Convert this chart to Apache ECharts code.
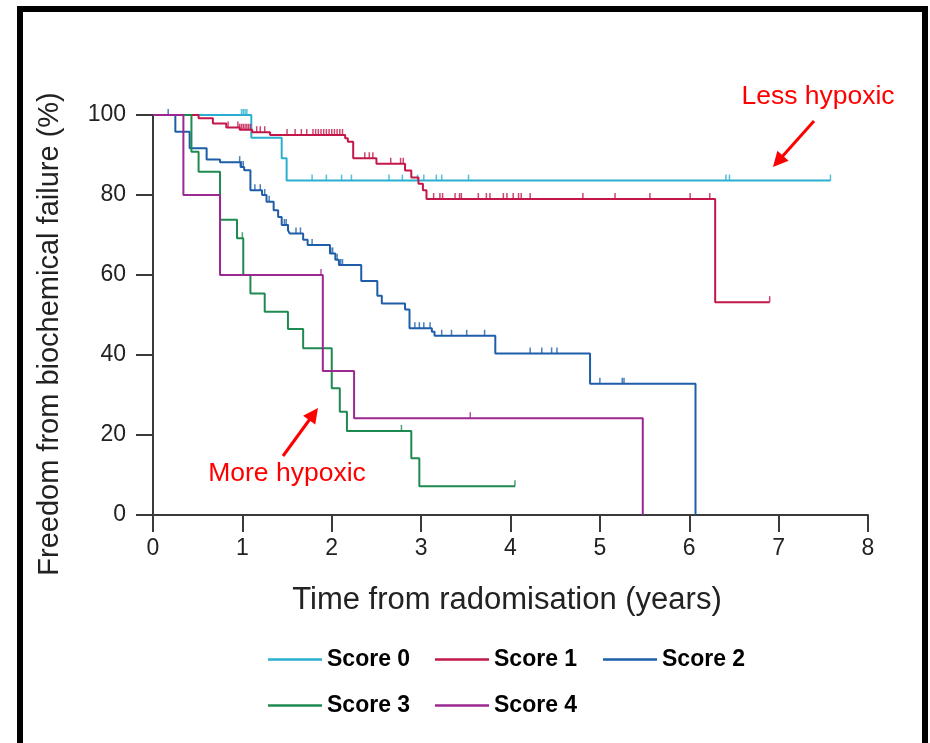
<!DOCTYPE html>
<html><head><meta charset="utf-8">
<script src="https://cdn.jsdelivr.net/npm/echarts@6/dist/echarts.min.js"></script>
<style>html,body{margin:0;padding:0;background:#fff}#c{width:930px;height:743px}</style>
</head><body><div id="c"></div><script>
// ---- data (time in years, survival in %) ----
const seriesNames = ['Score 0', 'Score 1', 'Score 2', 'Score 3', 'Score 4'];
const seriesColors = ['#2AAFD0', '#C3174A', '#1E5EA8', '#1F8A50', '#9B2790'];

const score0Time = [0, 1.10, 1.44, 1.495, 7.58];
const score0Surv = [100, 94.3, 89.2, 83.6, 83.6];
const score0Censor = [0.99, 1.01, 1.03, 1.05, 1.78, 1.94, 2.11, 2.22, 2.64, 2.79, 2.96, 3.03, 3.17, 3.23, 3.53, 6.41, 6.45, 7.58];

const score1Time = [0, 0.51, 0.67, 0.82, 0.97, 1.11, 1.31, 2.15, 2.18, 2.24, 2.50, 2.82, 2.89, 2.97, 3.02, 3.06, 6.29, 6.90];
const score1Surv = [100, 99.2, 97.9, 96.9, 96.3, 95.7, 95.0, 94.2, 93.3, 89.2, 87.8, 86.1, 84.4, 82.8, 81.2, 79.0, 53.2, 53.2];
const score1Censor = [0.84, 0.95, 0.97, 0.99, 1.01, 1.03, 1.05, 1.07, 1.09, 1.16, 1.20, 1.25,
  1.50, 1.59, 1.66, 1.72, 1.79, 1.82, 1.85, 1.88, 1.91, 1.94, 1.97, 2.00, 2.03, 2.06, 2.09, 2.12,
  2.37, 2.42, 2.46, 2.66, 2.77, 2.80,
  3.14, 3.21, 3.24, 3.38, 3.43, 3.45, 3.64, 3.73, 3.77, 3.92, 3.96, 4.03, 4.09, 4.12, 4.22, 4.81, 5.17, 5.56, 6.01, 6.23, 6.90];

const score2Time = [0, 0.25, 0.41, 0.60, 0.75, 0.98, 1.02, 1.09, 1.22, 1.27, 1.35, 1.40, 1.44, 1.51, 1.53, 1.68, 1.73, 1.98, 2.04, 2.08, 2.33, 2.51, 2.56, 2.82, 2.87, 3.12, 3.15, 3.83, 4.89, 6.07];
const score2Surv = [100, 95.8, 91.7, 88.9, 88.2, 87.0, 86.2, 81.2, 80.0, 78.3, 76.2, 74.5, 72.5, 71.2, 70.4, 68.8, 67.5, 65.4, 63.8, 62.5, 58.5, 54.8, 52.9, 51.4, 46.7, 45.8, 44.8, 40.4, 32.8, 0];
const score2Censor = [0.17, 0.97, 0.99, 1.01, 1.14, 1.20, 1.25, 1.30, 1.47, 1.49, 1.51, 1.60, 1.65, 1.78,
  1.99, 2.01, 2.06, 2.10, 2.12, 2.93, 2.98, 3.03, 3.10, 3.23, 3.34, 3.51, 3.71, 4.22, 4.35, 4.46, 4.52, 5.00, 5.25, 5.27];

const score3Time = [0, 0.43, 0.51, 0.75, 0.94, 1.01, 1.09, 1.25, 1.51, 1.68, 2.00, 2.09, 2.17, 2.89, 2.98, 4.05];
const score3Surv = [100, 90.8, 85.8, 73.8, 69.2, 60.0, 55.4, 50.8, 46.5, 41.7, 31.7, 25.8, 21.0, 14.2, 7.2, 7.2];
const score3Censor = [1.00, 2.78, 4.05];

const score4Time = [0, 0.34, 0.75, 1.90, 2.25, 5.48];
const score4Surv = [100, 80.0, 60.0, 36.0, 24.2, 0];
const score4Censor = [1.88, 3.55];

const xTickLabels = ['0', '1', '2', '3', '4', '5', '6', '7', '8'];
const yTickLabels = ['0', '20', '40', '60', '80', '100'];

// ---- build options ----
const times = [score0Time, score1Time, score2Time, score3Time, score4Time];
const survs = [score0Surv, score1Surv, score2Surv, score3Surv, score4Surv];
const censors = [score0Censor, score1Censor, score2Censor, score3Censor, score4Censor];

function survAt(ts, ss, t) {
  let v = ss[0];
  for (let i = 0; i < ts.length; i++) { if (ts[i] <= t) v = ss[i]; }
  return v;
}

const FONT = '"Liberation Sans", Arial, sans-serif';
const series = [];
for (let k = 0; k < 5; k++) {
  series.push({
    name: seriesNames[k], type: 'line', step: 'end', symbol: 'none', showSymbol: false,
    data: times[k].map((t, i) => [t, survs[k][i]]),
    lineStyle: { color: seriesColors[k], width: 2 }, itemStyle: { color: seriesColors[k] },
    z: 2 + k, animation: false
  });
}
for (let k = 0; k < 5; k++) {
  series.push({
    name: seriesNames[k] + ' censored', type: 'scatter', symbol: 'rect',
    symbolSize: [1.5, 6], symbolOffset: [0, -3],
    data: censors[k].map(t => [t, survAt(times[k], survs[k], t)]),
    itemStyle: { color: seriesColors[k] }, z: 2 + k, silent: true, animation: false
  });
}

const legendPos = [[268, 648], [435, 648], [603, 648], [268, 694], [435, 694]];
const legends = seriesNames.map((n, k) => ({
  data: [n], left: legendPos[k][0], top: legendPos[k][1], icon: 'rect', padding: 0,
  itemWidth: 54, itemHeight: 2.5, itemGap: 0, selectedMode: false,
  textStyle: { fontFamily: FONT, fontSize: 23, fontWeight: 'bold', color: '#000' }
}));

function arrow(x0, y0, x1, y1) {
  const dx = x1 - x0, dy = y1 - y0, L = Math.hypot(dx, dy);
  const ux = dx / L, uy = dy / L, nx = -uy, ny = ux, hl = 15, hw = 7.5;
  const bx = x1 - ux * hl, by = y1 - uy * hl;
  return [
    { type: 'line', shape: { x1: x0, y1: y0, x2: bx + ux * 2, y2: by + uy * 2 }, style: { stroke: '#FF0000', lineWidth: 3 } },
    { type: 'polygon', shape: { points: [[x1, y1], [bx + nx * hw, by + ny * hw], [bx - nx * hw, by - ny * hw]] }, style: { fill: '#FF0000' } }
  ];
}

const option = {
  backgroundColor: '#fff',
  animation: false,
  grid: { left: 153, right: 62, top: 115, bottom: 228 },
  legend: legends,
  xAxis: {
    type: 'value', min: 0, max: 8, interval: 1,
    axisLine: { show: true, onZero: false, lineStyle: { color: '#3a3a3a', width: 2 } },
    axisTick: { show: true, length: 17, lineStyle: { color: '#3a3a3a', width: 2 } },
    axisLabel: { fontFamily: FONT, fontSize: 23, color: '#222', margin: 22,
      formatter: v => xTickLabels[Math.round(v)] },
    splitLine: { show: false }
  },
  yAxis: {
    type: 'value', min: 0, max: 100, interval: 20,
    axisLine: { show: true, lineStyle: { color: '#3a3a3a', width: 2 } },
    axisTick: { show: true, length: 17, lineStyle: { color: '#3a3a3a', width: 2 } },
    axisLabel: { fontFamily: FONT, fontSize: 23, color: '#222', margin: 27,
      formatter: v => yTickLabels[Math.round(v / 20)] },
    splitLine: { show: false }
  },
  series: series,
  graphic: [
    { type: 'rect', shape: { x: 20, y: 9, width: 905, height: 800 }, style: { fill: 'none', stroke: '#000', lineWidth: 6 }, silent: true },
    { type: 'text', x: 50, y: 334, rotation: Math.PI / 2,
      style: { text: 'Freedom from biochemical failure (%)', fontFamily: FONT, fontSize: 29, fill: '#222', align: 'center', verticalAlign: 'middle' } },
    { type: 'text', x: 507, y: 600,
      style: { text: 'Time from radomisation (years)', fontFamily: FONT, fontSize: 31, fill: '#222', align: 'center', verticalAlign: 'middle' } },
    { type: 'text', x: 818, y: 97,
      style: { text: 'Less hypoxic', fontFamily: FONT, fontSize: 26.5, fill: '#FF0000', align: 'center', verticalAlign: 'middle' } },
    { type: 'text', x: 287, y: 474,
      style: { text: 'More hypoxic', fontFamily: FONT, fontSize: 26.5, fill: '#FF0000', align: 'center', verticalAlign: 'middle' } },
    ...arrow(814, 121, 773, 167),
    ...arrow(283, 456, 318, 408)
  ]
};

const chart = echarts.init(document.getElementById('c'), null, { renderer: 'canvas' });
chart.setOption(option);
</script></body></html>
